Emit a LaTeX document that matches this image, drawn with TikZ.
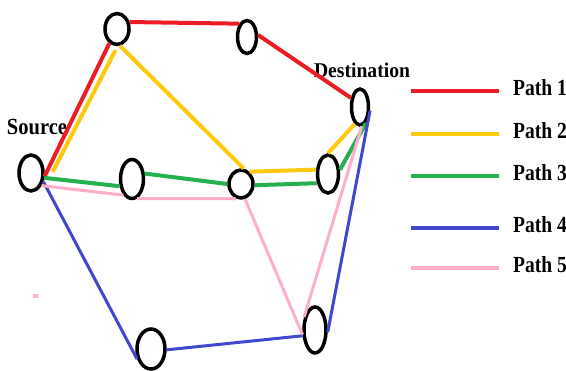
\documentclass[tikz,border=0pt]{standalone}
\usepackage{fontspec}
\setmainfont{Liberation Serif}
\usetikzlibrary{shapes.geometric}
\definecolor{pathred}{RGB}{237,28,36}
\definecolor{pathyellow}{RGB}{255,201,14}
\definecolor{pathgreen}{RGB}{34,177,76}
\definecolor{pathblue}{RGB}{63,72,204}
\definecolor{pathpink}{RGB}{255,174,201}
\tikzset{
  router/.style={ellipse,draw=black,line width=3.5pt,inner sep=0pt},
  lbl/.style={font=\fontsize{23}{23}\selectfont\bfseries,inner sep=0pt,xscale=0.85},
  thick path/.style={line width=4pt},
  thin path/.style={line width=3pt},
}

\begin{document}
\begin{tikzpicture}[x=1pt,y=-1pt]
  \useasboundingbox (0,0) rectangle (566,371);
  % routers
  \node[router,minimum width=24pt,minimum height=36pt] (src) at (31,173)  {};
  \node[router,minimum width=24pt,minimum height=31pt] (a)   at (117,29)  {};
  \node[router,minimum width=19pt,minimum height=33pt] (b)   at (247,37)  {};
  \node[router,minimum width=17pt,minimum height=36pt] (dst) at (360,107) {};
  \node[router,minimum width=23pt,minimum height=39pt] (c)   at (132,179) {};
  \node[router,minimum width=24pt,minimum height=28pt] (e)   at (241,184) {};
  \node[router,minimum width=21pt,minimum height=38pt] (f)   at (328,174) {};
  \node[router,minimum width=28pt,minimum height=40pt] (g)   at (151,349) {};
  \node[router,minimum width=22pt,minimum height=46pt] (h)   at (315,330) {};
  \node[lbl,xscale=1.05] (srclbl) at (37,127) {Source};
  \node[lbl,font=\fontsize{21}{21}\selectfont\bfseries,xscale=1.1] (dstlbl) at (362,70) {Destination};
  % path 1
  \draw[pathred,thick path] (src.-14) -- (a.-118) (a.29) -- (b.120) (b.10) -- (dst.135);
  % path 2
  \draw[pathyellow,thick path] ([xshift=8pt]src.5) -- ([yshift=-4pt]a.-95)
    (a.-80) -- (e.80) (e.55) -- (f.160) (f.90) -- (dst.-107);
  % path 3
  \draw[pathgreen,thick path] (src.-20) -- (c.-150) (c.23) -- (e.180)
    (e.-5) -- (f.-140) (f.20) -- (dst.-70);
  % path 4
  \draw[pathblue,thin path] (src.-35) -- (g.-144) (g.-3) -- (h.-155) (h.-10) -- (dst.-20);
  % path 5
  \draw[pathpink,thin path] (src.-50) -- (c.-118) (c.-75) -- (e.-108)
    (e.-75) -- (h.-160) (h.130) -- (dst.-85);
  \fill[pathpink] (33,294) rectangle (38,298);
  % legend
  \foreach \n/\y/\col in {1/91/pathred,2/134/pathyellow,3/176/pathgreen,4/228/pathblue,5/268/pathpink}{
    \coordinate (key\n a) at (411,\y);
    \coordinate (key\n b) at (499,\y);
    \draw[\col,thick path] (key\n a) -- (key\n b);
    \node[lbl,anchor=west] (key\n) at (513,\y-3) {Path \n};
  }
\end{tikzpicture}
\end{document}
